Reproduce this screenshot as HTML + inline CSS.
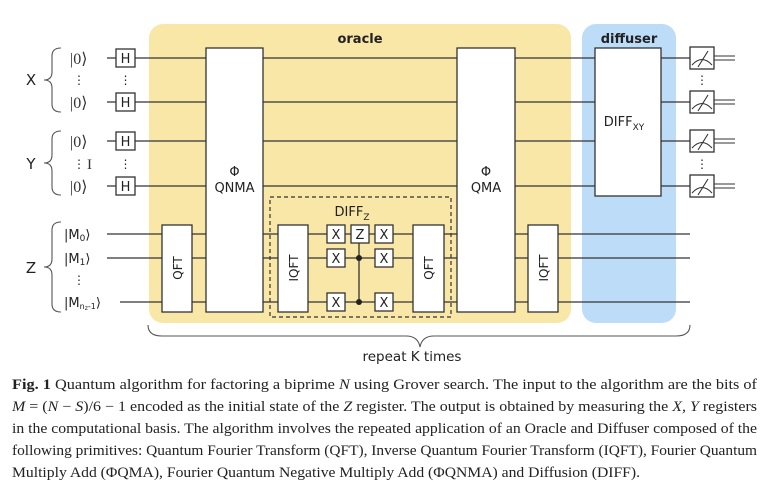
<!DOCTYPE html>
<html><head><meta charset="utf-8"><style>
html,body{margin:0;padding:0;background:#fff;}
svg{display:block;}
.s{font-family:"DejaVu Sans","Liberation Sans",sans-serif;fill:#222;}
.k{font-family:"Liberation Serif","DejaVu Serif",serif;fill:#333;}
.c{font-family:"Liberation Serif",serif;font-size:14.2px;fill:#222;}
</style></head><body>
<svg width="768" height="482" viewBox="0 0 768 482" xmlns="http://www.w3.org/2000/svg">
<rect x="149" y="24" width="422" height="299" rx="14" fill="#f8e7a6"/>
<rect x="582" y="24" width="94" height="299" rx="14" fill="#bcdcf8"/>
<text x="360" y="43" class="s" font-size="13" font-weight="bold" text-anchor="middle">oracle</text>
<text x="629" y="43" class="s" font-size="13" font-weight="bold" text-anchor="middle">diffuser</text>

<g stroke="#333" stroke-width="1.3" fill="none">
<line x1="107" y1="58" x2="690" y2="58"/>
<line x1="107" y1="102" x2="690" y2="102"/>
<line x1="107" y1="141" x2="690" y2="141"/>
<line x1="107" y1="186" x2="690" y2="186"/>
<line x1="107" y1="234" x2="690" y2="234"/>
<line x1="107" y1="258" x2="690" y2="258"/>
<line x1="120" y1="302" x2="690" y2="302"/>
<g stroke-width="1">
<line x1="714" y1="56" x2="735" y2="56"/><line x1="714" y1="60" x2="735" y2="60"/>
<line x1="714" y1="100" x2="735" y2="100"/><line x1="714" y1="104" x2="735" y2="104"/>
<line x1="714" y1="139" x2="735" y2="139"/><line x1="714" y1="143" x2="735" y2="143"/>
<line x1="714" y1="184" x2="735" y2="184"/><line x1="714" y1="188" x2="735" y2="188"/>
</g>
</g>

<g stroke="#333" stroke-width="1.3" fill="#fff">
<rect x="116" y="49" width="19" height="18"/>
<rect x="116" y="93" width="19" height="18"/>
<rect x="116" y="132" width="19" height="18"/>
<rect x="116" y="177" width="19" height="18"/>
<rect x="206" y="48" width="57" height="264"/>
<rect x="457" y="48" width="58" height="264"/>
<rect x="162" y="225" width="30" height="87"/>
<rect x="278" y="225" width="30" height="87"/>
<rect x="413" y="225" width="31" height="87"/>
<rect x="528" y="225" width="30" height="87"/>
<rect x="595" y="48" width="66" height="148"/>
<rect x="690" y="47" width="24" height="22"/>
<rect x="690" y="91" width="24" height="22"/>
<rect x="690" y="130" width="24" height="22"/>
<rect x="690" y="175" width="24" height="22"/>
</g>
<g stroke="#333" stroke-width="1.1" fill="none">
<path d="M692 65 Q702 54 712 65 M698 67 L708 51"/>
<path d="M692 109 Q702 98 712 109 M698 111 L708 95"/>
<path d="M692 148 Q702 137 712 148 M698 150 L708 134"/>
<path d="M692 193 Q702 182 712 193 M698 195 L708 179"/>
</g>
<rect x="270" y="197" width="181" height="120" fill="none" stroke="#333" stroke-width="1.2" stroke-dasharray="4,3"/>
<text x="352" y="216" class="s" font-size="13" text-anchor="middle">DIFF<tspan font-size="9" dy="4">Z</tspan></text>
<line x1="359" y1="243" x2="359" y2="302" stroke="#333" stroke-width="1.3"/>
<circle cx="359" cy="258" r="3" fill="#222"/>
<circle cx="359" cy="302" r="3" fill="#222"/>
<g stroke="#333" stroke-width="1.3" fill="#fff">
<rect x="327" y="225" width="18" height="18"/><rect x="351" y="225" width="18" height="18"/><rect x="375" y="225" width="18" height="18"/>
<rect x="327" y="249" width="18" height="18"/><rect x="375" y="249" width="18" height="18"/>
<rect x="327" y="293" width="18" height="18"/><rect x="375" y="293" width="18" height="18"/>
</g>
<g class="s" font-size="13" text-anchor="middle">
<text x="336" y="239">X</text><text x="360" y="239">Z</text><text x="384" y="239">X</text>
<text x="336" y="263">X</text><text x="384" y="263">X</text>
<text x="336" y="307">X</text><text x="384" y="307">X</text>
<text x="125.5" y="63">H</text><text x="125.5" y="107">H</text><text x="125.5" y="146">H</text><text x="125.5" y="191">H</text>
<text x="234.5" y="176">Φ</text><text x="234.5" y="192">QNMA</text>
<text x="486" y="176">Φ</text><text x="486" y="192">QMA</text>
<text x="624" y="126">DIFF<tspan font-size="9" dy="4">XY</tspan></text>
<text x="412" y="361" font-size="13.5">repeat K times</text>
</g>
<g class="s" font-size="12" text-anchor="middle">
<text transform="translate(182,268) rotate(-90)">QFT</text>
<text transform="translate(298,268) rotate(-90)">IQFT</text>
<text transform="translate(433,268) rotate(-90)">QFT</text>
<text transform="translate(548,268) rotate(-90)">IQFT</text>
</g>
<g class="s" font-size="12" text-anchor="middle">
<text x="125.5" y="84">⋮</text><text x="125.5" y="168">⋮</text>
<text x="702" y="84">⋮</text><text x="702" y="168">⋮</text>
<text x="79" y="84">⋮</text><text x="79" y="168">⋮</text><text x="79" y="284">⋮</text>
</g>
<text x="87" y="169" class="k" font-size="15">I</text>
<g class="k" font-size="16">
<text x="70" y="64">|0⟩</text><text x="70" y="108">|0⟩</text>
<text x="70" y="147">|0⟩</text><text x="70" y="192">|0⟩</text>
</g>
<g class="s" font-size="13" fill="#333">
<text x="64" y="239">|M<tspan font-size="9" dy="2">0</tspan><tspan dy="-2">⟩</tspan></text>
<text x="64" y="263">|M<tspan font-size="9" dy="2">1</tspan><tspan dy="-2">⟩</tspan></text>
<text x="64" y="307">|M<tspan font-size="8" dy="2">n</tspan><tspan font-size="6" dy="1">z</tspan><tspan font-size="8" dy="-1">-1</tspan><tspan dy="-2">⟩</tspan></text>
</g>
<g class="s" font-size="15" text-anchor="middle">
<text x="31" y="85">X</text><text x="31" y="169">Y</text><text x="31" y="273">Z</text>
</g>
<g stroke="#555" stroke-width="1.1" fill="none">
<path d="M61 48 Q52 48 52 56 L52 72 Q52 80 44 80 Q52 80 52 88 L52 104 Q52 112 61 112"/>
<path d="M61 131 Q52 131 52 139 L52 155 Q52 163 44 163 Q52 163 52 171 L52 187 Q52 195 61 195"/>
<path d="M61 222 Q52 222 52 230 L52 259 Q52 267 44 267 Q52 267 52 275 L52 304 Q52 312 61 312"/>
<path d="M148 325 Q148 336 162 336 L406 336 Q418 336 420 347 Q422 336 434 336 L676 336 Q690 336 690 325"/>
</g>
<g class="c">
<text x="12" y="389" textLength="745" lengthAdjust="spacingAndGlyphs"><tspan font-weight="bold">Fig. 1</tspan>  Quantum algorithm for factoring a biprime <tspan font-style="italic">N</tspan> using Grover search. The input to the algorithm are the bits of</text>
<text x="12" y="411" textLength="745" lengthAdjust="spacingAndGlyphs"><tspan font-style="italic">M</tspan> = (<tspan font-style="italic">N</tspan> − <tspan font-style="italic">S</tspan>)/6 − 1 encoded as the initial state of the <tspan font-style="italic">Z</tspan> register. The output is obtained by measuring the <tspan font-style="italic">X, Y</tspan> registers</text>
<text x="12" y="433" textLength="745" lengthAdjust="spacingAndGlyphs">in the computational basis. The algorithm involves the repeated application of an Oracle and Diffuser composed of the</text>
<text x="12" y="455" textLength="745" lengthAdjust="spacingAndGlyphs">following primitives: Quantum Fourier Transform (QFT), Inverse Quantum Fourier Transform (IQFT), Fourier Quantum</text>
<text x="12" y="477" textLength="628" lengthAdjust="spacingAndGlyphs">Multiply Add (ΦQMA), Fourier Quantum Negative Multiply Add (ΦQNMA) and Diffusion (DIFF).</text>
</g>
</svg>
</body></html>
